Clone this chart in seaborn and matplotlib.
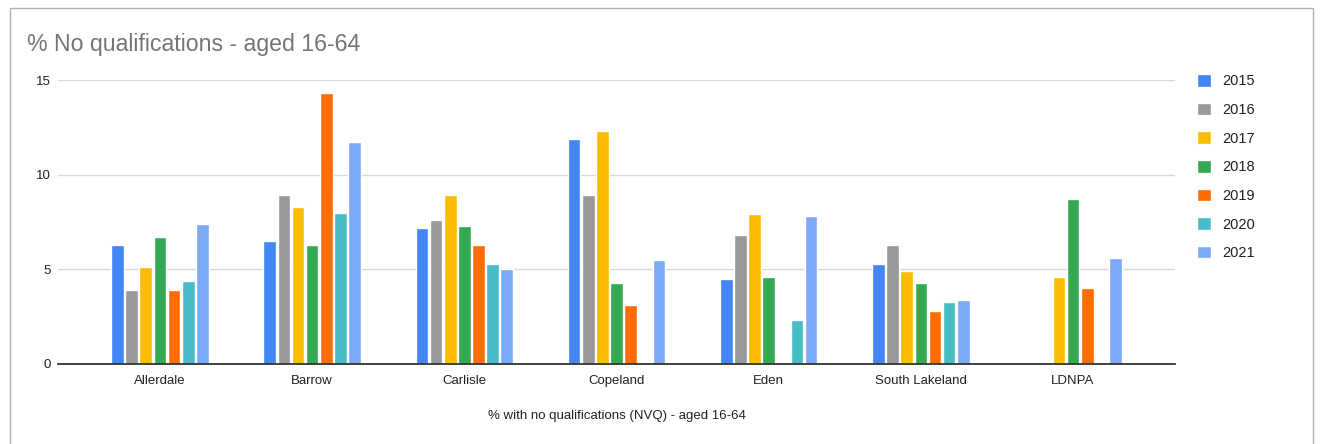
import pandas as pd
import matplotlib
matplotlib.use("Agg")
import matplotlib.pyplot as plt
import seaborn as sns
from matplotlib.patches import Rectangle

# data
districts = ["Allerdale", "Barrow", "Carlisle", "Copeland", "Eden", "South Lakeland", "LDNPA"]
years = ["2015", "2016", "2017", "2018", "2019", "2020", "2021"]
nan = float("nan")
v2015 = [6.3, 6.5, 7.2, 11.9, 4.5, 5.3, nan]
v2016 = [3.9, 8.9, 7.6, 8.9, 6.8, 6.3, nan]
v2017 = [5.1, 8.3, 8.9, 12.3, 7.9, 4.9, 4.6]
v2018 = [6.7, 6.3, 7.3, 4.3, 4.6, 4.3, 8.7]
v2019 = [3.9, 14.3, 6.3, 3.1, nan, 2.8, 4.0]
v2020 = [4.4, 8.0, 5.3, nan, 2.3, 3.3, nan]
v2021 = [7.4, 11.7, 5.0, 5.5, 7.8, 3.4, 5.6]
colors = ["#4285F4", "#999999", "#FBBC04", "#34A853", "#FF6D01", "#46BDC6", "#7BAAF7"]

series = [v2015, v2016, v2017, v2018, v2019, v2020, v2021]
rows = []
for yr, vals in zip(years, series):
    for d, v in zip(districts, vals):
        rows.append({"District": d, "Year": yr, "Value": v})
df = pd.DataFrame(rows)

sns.set_theme(style="white")
plt.rcParams["font.family"] = ["Liberation Sans", "DejaVu Sans"]

W, H = 1325, 444
fig = plt.figure(figsize=(W / 100, H / 100), dpi=100)
ax = fig.add_axes([58 / W, 1 - 364 / H, (1175 - 58) / W, 284 / H])

sns.barplot(data=df, x="District", y="Value", hue="Year", order=districts,
            hue_order=years, palette=colors, width=0.65, gap=0.1,
            saturation=1, errorbar=None, ax=ax)

ax.set_ylim(0, 15)
ax.set_xlim(-0.67, 6.67)
ax.set_yticks([0, 5, 10, 15])
ax.yaxis.grid(True, color="#d9d9d9", linewidth=1)
ax.set_axisbelow(True)
for s in ["top", "right", "left"]:
    ax.spines[s].set_visible(False)
ax.spines["bottom"].set_color("#333333")
ax.spines["bottom"].set_linewidth(1.3)
ax.tick_params(axis="y", length=0, pad=5, labelsize=9.5, labelcolor="#222222")
ax.tick_params(axis="x", length=0, pad=8, labelsize=9.5, labelcolor="#222222")
ax.set_ylabel("")
ax.set_xlabel("% with no qualifications (NVQ) - aged 16-64", fontsize=9.5, color="#222222", va="center")
ax.xaxis.set_label_coords(0.5, (364 - 416) / 284)

handles, labels = ax.get_legend_handles_labels()
ax.get_legend().remove()
fig.legend(handles, labels, loc="upper left", bbox_to_anchor=(1197 / W, 1 - 74 / H),
           frameon=False, fontsize=10.5, handlelength=0.96, handleheight=0.96,
           handletextpad=0.75, labelspacing=0.98, borderpad=0, borderaxespad=0,
           labelcolor="#222222")

fig.text(27 / W, 1 - 45 / H, "% No qualifications - aged 16-64", fontsize=16.7,
         color="#757575", va="center", ha="left")

fig.patches.append(Rectangle((10 / W, -0.01), (1313 - 10) / W, 1.01 - 8 / H,
                             transform=fig.transFigure, fill=False,
                             edgecolor="#b0b0b0", linewidth=1))

fig.savefig("out.png", dpi=100, facecolor="white")
plt.close(fig)
